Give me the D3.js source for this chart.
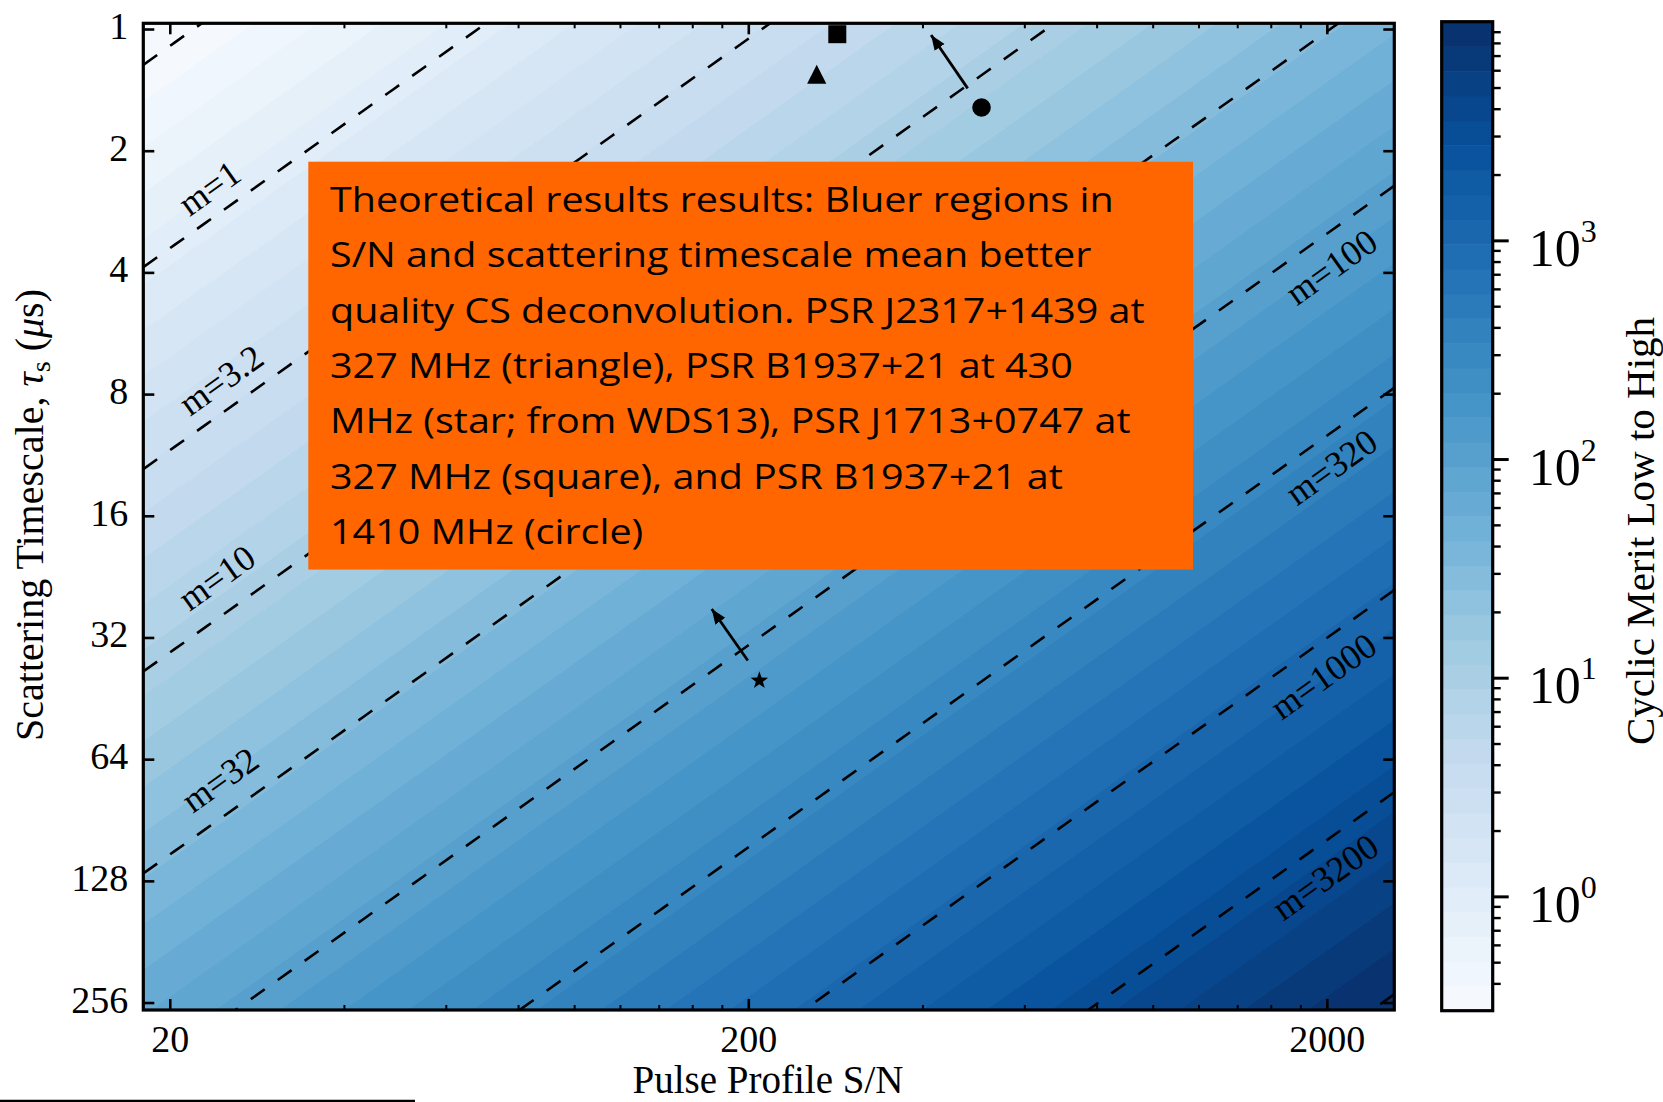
<!DOCTYPE html>
<html>
<head>
<meta charset="utf-8">
<script src="https://cdn.jsdelivr.net/npm/d3@7"></script>
<style>
  html, body { margin: 0; padding: 0; background: #fff; }
  svg { display: block; }
</style>
</head>
<body>
<svg id="chart" width="1663" height="1102"></svg>
<script>
// ---- axis ticks ----
const snMajorTicks = [20, 200, 2000];
const snMinorTicks = [40, 60, 80, 100, 120, 140, 160, 180, 400, 600, 800, 1000, 1200, 1400, 1600, 1800];
const tauTicks = [1, 2, 4, 8, 16, 32, 64, 128, 256];
const meritMajorTicks = [1, 10, 100, 1000];
const meritMinorTicks = [0.4, 0.5, 0.6, 0.7, 0.8, 0.9,
  2, 3, 4, 5, 6, 7, 8, 9, 20, 30, 40, 50, 60, 70, 80, 90,
  200, 300, 400, 500, 600, 700, 800, 900, 2000, 3000, 4000, 5000, 6000, 7000, 8000, 9000];

// ---- axis extents ----
const snDomain = [18, 2616];
const tauDomain = [0.968, 267.1];
const meritDomain = [0.3, 10000];

// ---- cyclic merit model: log10 m = a*log10(S/N) + b*log10(tau) + c ----
const meritSnExponent = 1.018;
const meritTauExponent = 1.0;
const meritOffset = -1.867;

// ---- contour levels (dashed iso-merit lines) ----
const meritLevels = [0.316, 1, 3.16, 10, 31.6, 100, 316, 1000, 3162, 10000];
const meritLabelText = ["m=1", "m=3.2", "m=10", "m=32", "m=100", "m=320", "m=1000", "m=3200"];
const meritLabelSn = [23.4, 24.5, 24.1, 24.4, 2035, 2035, 1971, 1986];
const meritLabelTau = [2.47, 7.37, 22.7, 71.8, 3.87, 12.1, 39.8, 125];

// ---- pulsars ----
const pulsarShape = ["triangle", "square", "circle", "star"];
const pulsarSn = [262.6, 285, 506, 209];
const pulsarTau = [1.294, 1.03, 1.564, 40.9];

// ---- improvement arrows (from -> to) ----
const arrowFromSn = [478.9, 199.6];
const arrowFromTau = [1.402, 36.5];
const arrowToSn = [414, 172.9];
const arrowToTau = [1.035, 27.2];

// ---- annotation text ----
const noteLines = [
  "Theoretical results results: Bluer regions in",
  "S/N and scattering timescale mean better",
  "quality CS deconvolution. PSR J2317+1439 at",
  "327 MHz (triangle), PSR B1937+21 at 430",
  "MHz (star; from WDS13), PSR J1713+0747 at",
  "327 MHz (square), and PSR B1937+21 at",
  "1410 MHz (circle)"
];

// ---- colour ramp (Blues) ----
const bluesRamp = ["#f7fbff", "#deebf7", "#c6dbef", "#9ecae1", "#6baed6",
                   "#4292c6", "#2171b5", "#08519c", "#08306b"];
const nBands = 40;

// ================= layout =================
const plot = { left: 143.3, right: 1394.3, top: 23.3, bottom: 1010 };
const cbar = { left: 1441.7, right: 1492.7, top: 21.7, bottom: 1010.7 };
const serif = "'Liberation Serif', 'Times New Roman', serif";

const svg = d3.select("#chart");
const defs = svg.append("defs");

const x = d3.scaleLog().domain(snDomain).range([plot.left, plot.right]);
const y = d3.scaleLog().domain(tauDomain).range([plot.top, plot.bottom]);
const c = d3.scaleLog().domain(meritDomain).range([cbar.bottom, cbar.top]);

const cmap = d3.scaleLinear()
  .domain(d3.range(bluesRamp.length).map(i => i / (bluesRamp.length - 1)))
  .range(bluesRamp)
  .interpolate(d3.interpolateRgb);

const logLo = Math.log10(meritDomain[0]);
const logHi = Math.log10(meritDomain[1]);
const bandEdges = d3.range(nBands + 1).map(k => logLo + k * (logHi - logLo) / nBands);
const bandColor = k => cmap((k + 0.5) / nBands);

const logMerit = (sn, tau) =>
  meritSnExponent * Math.log10(sn) + meritTauExponent * Math.log10(tau) + meritOffset;
const tauOnLevel = (m, sn) =>
  Math.pow(10, (Math.log10(m) - meritSnExponent * Math.log10(sn) - meritOffset) / meritTauExponent);

// ---- merit field as a banded linear gradient (log m is linear in pixel space) ----
const fPix = (px, py) => logMerit(x.invert(px), y.invert(py));
const cx0 = (plot.left + plot.right) / 2, cy0 = (plot.top + plot.bottom) / 2;
const f0 = fPix(cx0, cy0);
const gx = fPix(cx0 + 1, cy0) - f0;
const gy = fPix(cx0, cy0 + 1) - f0;
const g2 = gx * gx + gy * gy;
const p1 = [cx0 + (logLo - f0) / g2 * gx, cy0 + (logLo - f0) / g2 * gy];
const p2 = [cx0 + (logHi - f0) / g2 * gx, cy0 + (logHi - f0) / g2 * gy];

const grad = defs.append("linearGradient")
  .attr("id", "merit-field")
  .attr("gradientUnits", "userSpaceOnUse")
  .attr("x1", p1[0]).attr("y1", p1[1])
  .attr("x2", p2[0]).attr("y2", p2[1]);
d3.range(nBands).forEach(k => {
  const o0 = (bandEdges[k] - logLo) / (logHi - logLo);
  const o1 = (bandEdges[k + 1] - logLo) / (logHi - logLo);
  grad.append("stop").attr("offset", o0).attr("stop-color", bandColor(k));
  grad.append("stop").attr("offset", o1).attr("stop-color", bandColor(k));
});

defs.append("clipPath").attr("id", "plot-clip")
  .append("rect")
  .attr("x", plot.left).attr("y", plot.top)
  .attr("width", plot.right - plot.left).attr("height", plot.bottom - plot.top);

svg.append("rect")
  .attr("x", plot.left).attr("y", plot.top)
  .attr("width", plot.right - plot.left).attr("height", plot.bottom - plot.top)
  .attr("fill", "url(#merit-field)");

// ---- dashed iso-merit lines ----
const lineGen = d3.line().x(d => x(d[0])).y(d => y(d[1]));
const snSamples = d3.range(0, 41).map(i => snDomain[0] * Math.pow(snDomain[1] / snDomain[0], i / 40));
const contourG = svg.append("g").attr("clip-path", "url(#plot-clip)");
contourG.selectAll("path.iso")
  .data(meritLevels)
  .join("path")
  .attr("class", "iso")
  .attr("d", m => lineGen(snSamples.map(s => [s, tauOnLevel(m, s)])))
  .attr("fill", "none")
  .attr("stroke", "#000")
  .attr("stroke-width", 2.6)
  .attr("stroke-dasharray", "17,16");

// label angle follows the iso-lines in screen space
const ax1 = x(30), ay1 = y(tauOnLevel(10, 30));
const ax2 = x(300), ay2 = y(tauOnLevel(10, 300));
const isoAngle = Math.atan2(ay2 - ay1, ax2 - ax1) * 180 / Math.PI;

svg.append("g").selectAll("text")
  .data(meritLabelText)
  .join("text")
  .attr("transform", (d, i) => `translate(${x(meritLabelSn[i])},${y(meritLabelTau[i])}) rotate(${isoAngle})`)
  .attr("text-anchor", "middle")
  .attr("dy", "0.35em")
  .attr("font-family", serif)
  .attr("font-size", 36)
  .attr("fill", "#000")
  .text(d => d);

// ---- arrows ----
defs.append("marker")
  .attr("id", "arrowhead")
  .attr("markerUnits", "userSpaceOnUse")
  .attr("markerWidth", 16).attr("markerHeight", 14)
  .attr("refX", 15).attr("refY", 7)
  .attr("orient", "auto")
  .append("path")
  .attr("d", "M0,1 L15,7 L0,13 Z")
  .attr("fill", "#000");

svg.append("g").selectAll("line")
  .data(arrowFromSn)
  .join("line")
  .attr("x1", (d, i) => x(arrowFromSn[i]))
  .attr("y1", (d, i) => y(arrowFromTau[i]))
  .attr("x2", (d, i) => x(arrowToSn[i]))
  .attr("y2", (d, i) => y(arrowToTau[i]))
  .attr("stroke", "#000")
  .attr("stroke-width", 2.8)
  .attr("marker-end", "url(#arrowhead)");

// ---- pulsar markers ----
function markerPath(shape) {
  if (shape === "square") return "M-9,-9H9V9H-9Z";
  if (shape === "circle") return "M9.3,0A9.3,9.3 0 1,1 -9.3,0A9.3,9.3 0 1,1 9.3,0Z";
  if (shape === "triangle") return "M0,-9.4L9.6,9.4L-9.6,9.4Z";
  // five-pointed star
  const R = 9.2, r = 3.7, pts = [];
  for (let k = 0; k < 10; k++) {
    const rad = k % 2 === 0 ? R : r;
    const a = -Math.PI / 2 + k * Math.PI / 5;
    pts.push([rad * Math.cos(a), rad * Math.sin(a)]);
  }
  return "M" + pts.map(p => p.join(",")).join("L") + "Z";
}
svg.append("g").selectAll("path")
  .data(pulsarShape)
  .join("path")
  .attr("transform", (d, i) => `translate(${x(pulsarSn[i])},${y(pulsarTau[i])})`)
  .attr("d", d => markerPath(d))
  .attr("fill", "#000");

// ---- axes (ticks point inward) ----
function styleAxis(g, width) {
  g.select(".domain").remove();
  g.selectAll(".tick line").attr("stroke", "#000").attr("stroke-width", width);
  g.selectAll(".tick text").attr("font-family", serif).attr("font-size", 38).attr("fill", "#000");
}
const axisLayer = svg.append("g");
axisLayer.append("g").attr("transform", `translate(0,${plot.bottom})`)
  .call(d3.axisBottom(x).tickValues(snMajorTicks).tickSize(-11).tickPadding(15).tickFormat(d3.format("d")))
  .call(g => styleAxis(g, 2.6));
axisLayer.append("g").attr("transform", `translate(0,${plot.bottom})`)
  .call(d3.axisBottom(x).tickValues(snMinorTicks).tickSize(-5).tickFormat(""))
  .call(g => styleAxis(g, 2));
axisLayer.append("g").attr("transform", `translate(0,${plot.top})`)
  .call(d3.axisTop(x).tickValues(snMajorTicks).tickSize(-11).tickFormat(""))
  .call(g => styleAxis(g, 2.6));
axisLayer.append("g").attr("transform", `translate(0,${plot.top})`)
  .call(d3.axisTop(x).tickValues(snMinorTicks).tickSize(-5).tickFormat(""))
  .call(g => styleAxis(g, 2));
axisLayer.append("g").attr("transform", `translate(${plot.left},0)`)
  .call(d3.axisLeft(y).tickValues(tauTicks).tickSize(-11).tickPadding(15).tickFormat(d3.format("d")))
  .call(g => styleAxis(g, 2.6))
  .call(g => g.selectAll(".tick text").attr("dy", "0.25em"));
axisLayer.append("g").attr("transform", `translate(${plot.right},0)`)
  .call(d3.axisRight(y).tickValues(tauTicks).tickSize(-11).tickFormat(""))
  .call(g => styleAxis(g, 2.6));

svg.append("rect")
  .attr("x", plot.left).attr("y", plot.top)
  .attr("width", plot.right - plot.left).attr("height", plot.bottom - plot.top)
  .attr("fill", "none").attr("stroke", "#000").attr("stroke-width", 3.2);

// ---- axis titles ----
svg.append("text")
  .attr("x", 768).attr("y", 1093)
  .attr("text-anchor", "middle")
  .attr("font-family", serif).attr("font-size", 39).attr("fill", "#000")
  .text("Pulse Profile S/N");

const yTitle = svg.append("text")
  .attr("transform", "translate(43,515) rotate(-90)")
  .attr("text-anchor", "middle")
  .attr("font-family", serif).attr("font-size", 40).attr("fill", "#000");
yTitle.append("tspan").text("Scattering Timescale, ");
yTitle.append("tspan").attr("font-style", "italic").text("\u03c4");
yTitle.append("tspan").attr("font-size", 28).attr("dy", 7).text("s");
yTitle.append("tspan").attr("dy", -7).text(" (");
yTitle.append("tspan").attr("font-style", "italic").text("\u03bc");
yTitle.append("tspan").text("s)");

// ---- annotation box ----
const note = svg.append("g");
note.append("rect")
  .attr("x", 308.3).attr("y", 161.7)
  .attr("width", 1193 - 308.3).attr("height", 569.6 - 161.7)
  .attr("fill", "#ff6600");
const noteText = note.selectAll("text")
  .data(noteLines)
  .join("text")
  .attr("x", 330)
  .attr("y", (d, i) => 212 + i * 55.3)
  .attr("font-family", "'Open Sans', Lato, sans-serif")
  .attr("font-size", 34)
  .attr("fill", "#000")
  .text(d => d);
// condense glyphs uniformly so the first line spans the box's text column
const natural0 = noteText.nodes()[0].getComputedTextLength();
const squeeze = (1113.6 - 330) / natural0;
noteText.each(function () {
  const w = this.getComputedTextLength();
  d3.select(this).attr("textLength", w * squeeze).attr("lengthAdjust", "spacingAndGlyphs");
});

// ---- colour bar ----
const cbarG = svg.append("g");
cbarG.selectAll("rect.band")
  .data(d3.range(nBands))
  .join("rect")
  .attr("class", "band")
  .attr("x", cbar.left)
  .attr("width", cbar.right - cbar.left)
  .attr("y", k => c(Math.pow(10, bandEdges[k + 1])))
  .attr("height", k => c(Math.pow(10, bandEdges[k])) - c(Math.pow(10, bandEdges[k + 1])) + 0.5)
  .attr("fill", k => bandColor(k));
cbarG.append("rect")
  .attr("x", cbar.left).attr("y", cbar.top)
  .attr("width", cbar.right - cbar.left).attr("height", cbar.bottom - cbar.top)
  .attr("fill", "none").attr("stroke", "#000").attr("stroke-width", 3.2);

cbarG.append("g").attr("transform", `translate(${cbar.right},0)`)
  .call(d3.axisRight(c).tickValues(meritMinorTicks).tickSize(8).tickFormat(""))
  .call(g => styleAxis(g, 2.4));
const cbarMajor = cbarG.append("g").attr("transform", `translate(${cbar.right},0)`)
  .call(d3.axisRight(c).tickValues(meritMajorTicks).tickSize(16).tickPadding(20))
  .call(g => styleAxis(g, 3));
cbarMajor.selectAll(".tick text")
  .attr("font-size", 52)
  .attr("dy", "0.48em")
  .each(function (d) {
    const t = d3.select(this);
    t.text(null);
    t.append("tspan").text("10");
    t.append("tspan").attr("font-size", 32).attr("dy", -24).text(Math.round(Math.log10(d)));
  });

svg.append("text")
  .attr("transform", "translate(1654,531) rotate(-90)")
  .attr("text-anchor", "middle")
  .attr("font-family", serif).attr("font-size", 41).attr("fill", "#000")
  .text("Cyclic Merit Low to High");

// ---- rule at the lower-left edge ----
svg.append("line")
  .attr("x1", 0).attr("x2", 415)
  .attr("y1", 1100.8).attr("y2", 1100.8)
  .attr("stroke", "#000").attr("stroke-width", 2.3);
</script>
</body>
</html>
